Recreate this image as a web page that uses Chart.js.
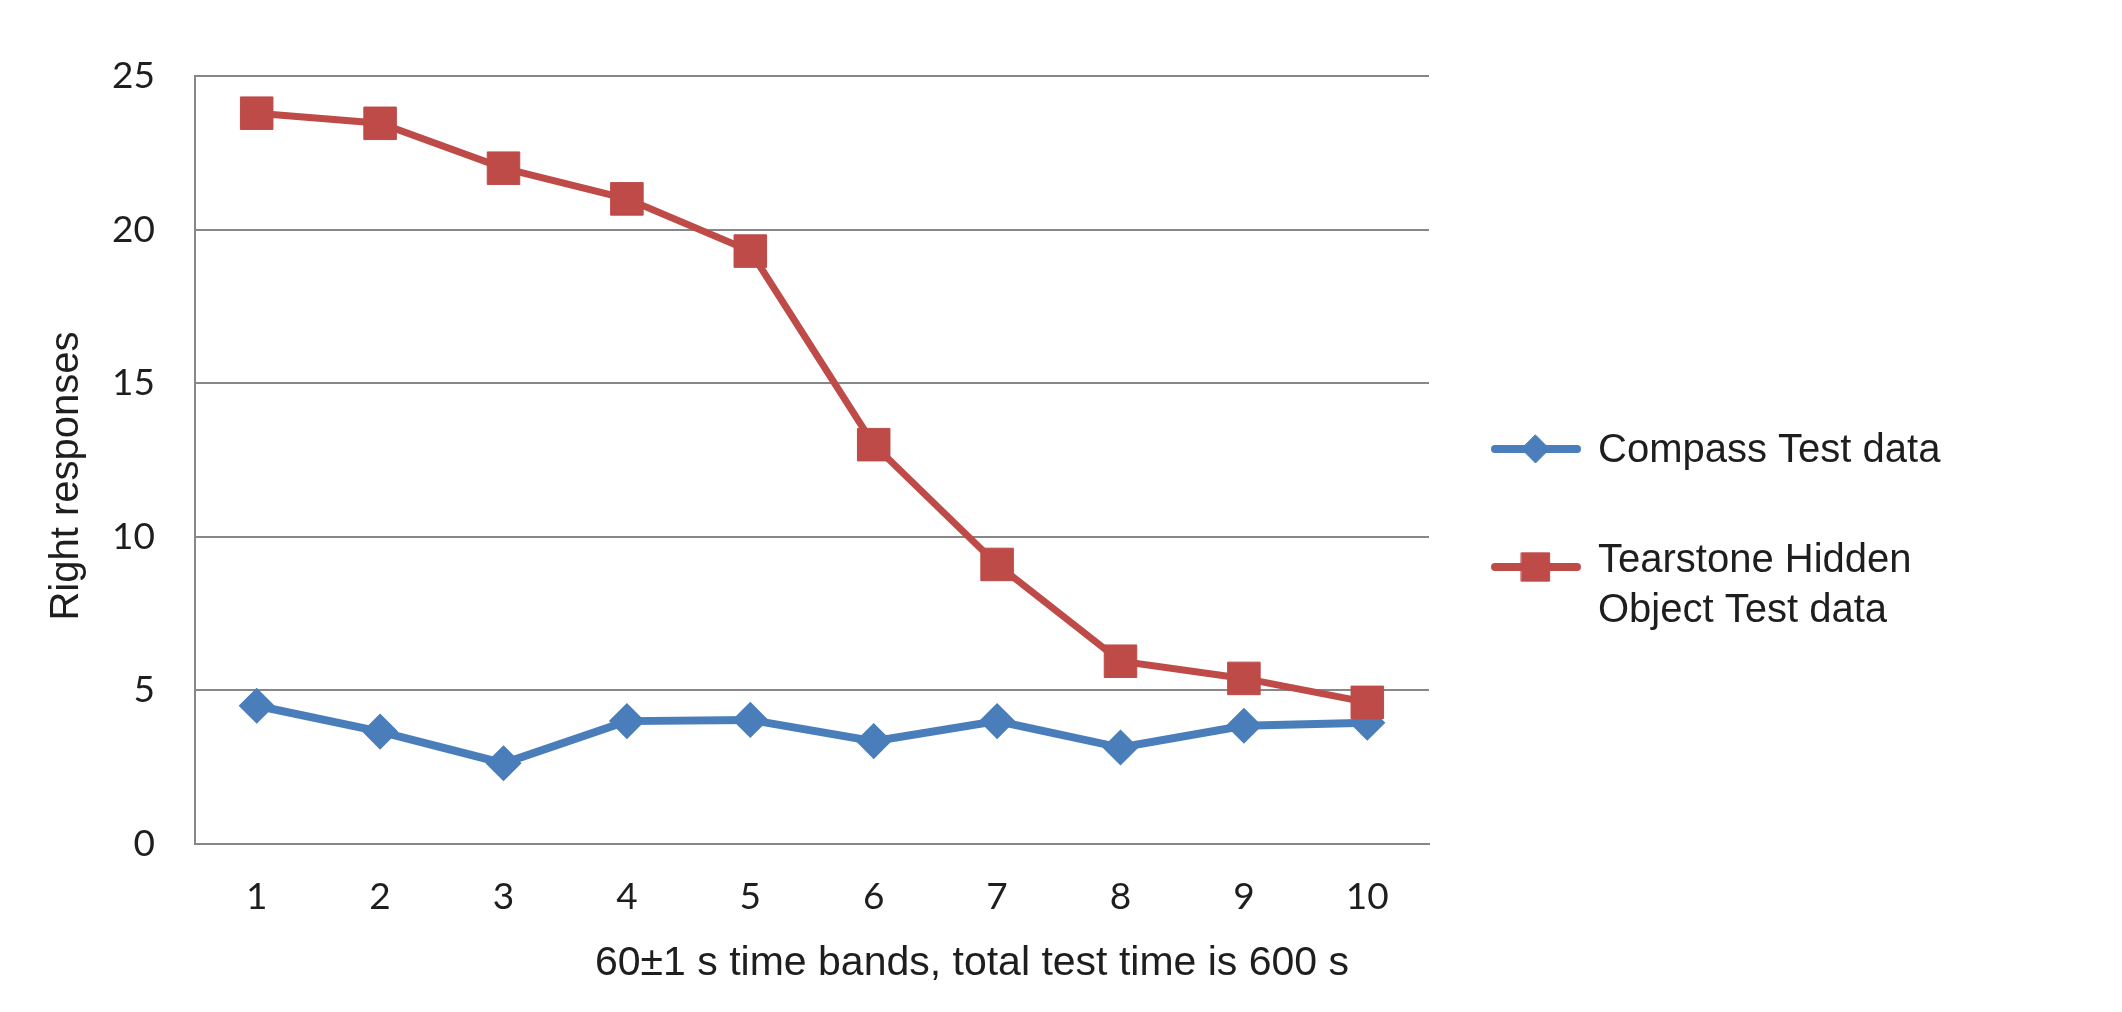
<!DOCTYPE html>
<html>
<head>
<meta charset="utf-8">
<script src="https://cdn.jsdelivr.net/npm/chart.js@4/dist/chart.umd.min.js"></script>
<style>
  html, body { margin: 0; padding: 0; background: #ffffff; }
  #wrap { width: 2122px; height: 1012px; position: relative; }
  canvas { display: block; }
</style>
</head>
<body>
<div id="wrap"><canvas id="c" width="2122" height="1012"></canvas></div>
<script>
// ---- data ----
const categories = ['1', '2', '3', '4', '5', '6', '7', '8', '9', '10'];
const compassValues = [4.5, 3.66, 2.63, 4.0, 4.04, 3.35, 4.0, 3.14, 3.85, 3.95];
const tearstoneValues = [23.79, 23.46, 22.0, 21.0, 19.3, 13.0, 9.1, 5.95, 5.39, 4.61];
const seriesNames = ['Compass Test data', ['Tearstone Hidden', 'Object Test data']];
const yAxisTitle = 'Right responses';
const xAxisTitle = '60\u00b11 s time bands, total test time is 600 s';
const yMin = 0, yMax = 25, yStep = 5;

// ---- styles ----
const BLUE = '#4a7ebb';
const RED = '#be4b48';
const GRID = '#878787';
const TEXT = '#1e1e1e';
const SANS = '"Liberation Sans", Arial, sans-serif';
const TICKFONT = 'Lato, "Liberation Sans", sans-serif';

const overlay = {
  id: 'overlay',
  afterDraw(chart) {
    const ctx = chart.ctx;
    ctx.save();
    ctx.fillStyle = TEXT;
    // y title
    ctx.font = '40px ' + SANS;
    ctx.textAlign = 'center';
    ctx.textBaseline = 'alphabetic';
    ctx.save();
    ctx.translate(78, 476);
    ctx.rotate(-Math.PI / 2);
    ctx.fillText(yAxisTitle, 0, 0);
    ctx.restore();
    // x title
    ctx.font = '41px ' + SANS;
    ctx.textAlign = 'left';
    ctx.fillText(xAxisTitle, 595, 975);

    // legend
    const items = [
      { ds: chart.data.datasets[0], lineY: 449, textY: [461.5], r: 14 },
      { ds: chart.data.datasets[1], lineY: 567, textY: [571.5, 621.5], r: 20 }
    ];
    items.forEach((it, i) => {
      const ds = it.ds;
      ctx.strokeStyle = ds.borderColor;
      ctx.lineWidth = 8;
      ctx.lineCap = 'round';
      ctx.beginPath();
      ctx.moveTo(1495, it.lineY);
      ctx.lineTo(1577, it.lineY);
      ctx.stroke();
      ctx.fillStyle = ds.pointBackgroundColor;
      ctx.strokeStyle = ds.pointBorderColor;
      ctx.lineWidth = 1;
      ctx.beginPath();
      if (ds.pointStyle === 'rect') {
        const s = it.r * Math.SQRT1_2;
        ctx.rect(1535.5 - s, it.lineY - s, 2 * s, 2 * s);
      } else {
        ctx.moveTo(1535.5, it.lineY - it.r);
        ctx.lineTo(1535.5 + it.r, it.lineY);
        ctx.lineTo(1535.5, it.lineY + it.r);
        ctx.lineTo(1535.5 - it.r, it.lineY);
        ctx.closePath();
      }
      ctx.fill();
      ctx.stroke();
      ctx.fillStyle = TEXT;
      ctx.font = '40px ' + SANS;
      ctx.textAlign = 'left';
      ctx.textBaseline = 'alphabetic';
      const lines = Array.isArray(seriesNames[i]) ? seriesNames[i] : [seriesNames[i]];
      lines.forEach((t, k) => ctx.fillText(t, 1598, it.textY[k]));
    });
    ctx.restore();
  }
};

new Chart(document.getElementById('c'), {
  type: 'line',
  data: {
    labels: categories,
    datasets: [
      {
        label: 'Compass Test data',
        data: compassValues,
        borderColor: BLUE,
        backgroundColor: BLUE,
        borderWidth: 8,
        pointStyle: 'rectRot',
        pointRadius: 17,
        pointHoverRadius: 17,
        pointBackgroundColor: BLUE,
        pointBorderColor: BLUE,
        pointBorderWidth: 1.5,
        tension: 0,
        order: 2
      },
      {
        label: 'Tearstone Hidden Object Test data',
        data: tearstoneValues,
        borderColor: RED,
        backgroundColor: RED,
        borderWidth: 7,
        pointStyle: 'rect',
        pointRadius: 23,
        pointHoverRadius: 23,
        pointBackgroundColor: RED,
        pointBorderColor: RED,
        pointBorderWidth: 1,
        tension: 0,
        order: 1
      }
    ]
  },
  options: {
    responsive: false,
    animation: false,
    devicePixelRatio: 1,
    layout: { padding: { top: 76, right: 693, left: 0, bottom: 0 } },
    plugins: {
      legend: { display: false },
      tooltip: { enabled: false },
      title: { display: false }
    },
    scales: {
      x: {
        type: 'category',
        offset: true,
        grid: { display: false, drawTicks: false, offset: true },
        border: { display: true, color: GRID, width: 2 },
        ticks: {
          color: TEXT,
          font: { family: TICKFONT, size: 37 },
          padding: 31,
          maxRotation: 0,
          autoSkip: false
        },
        afterFit(scale) { scale.height = 168; }
      },
      y: {
        min: yMin,
        max: yMax,
        grid: { color: GRID, lineWidth: 2, drawTicks: false },
        border: { display: true, color: GRID, width: 2 },
        ticks: {
          stepSize: yStep,
          color: TEXT,
          font: { family: TICKFONT, size: 37 },
          padding: 40
        },
        afterFit(scale) { scale.width = 195; }
      }
    }
  },
  plugins: [overlay]
});
</script>
</body>
</html>
